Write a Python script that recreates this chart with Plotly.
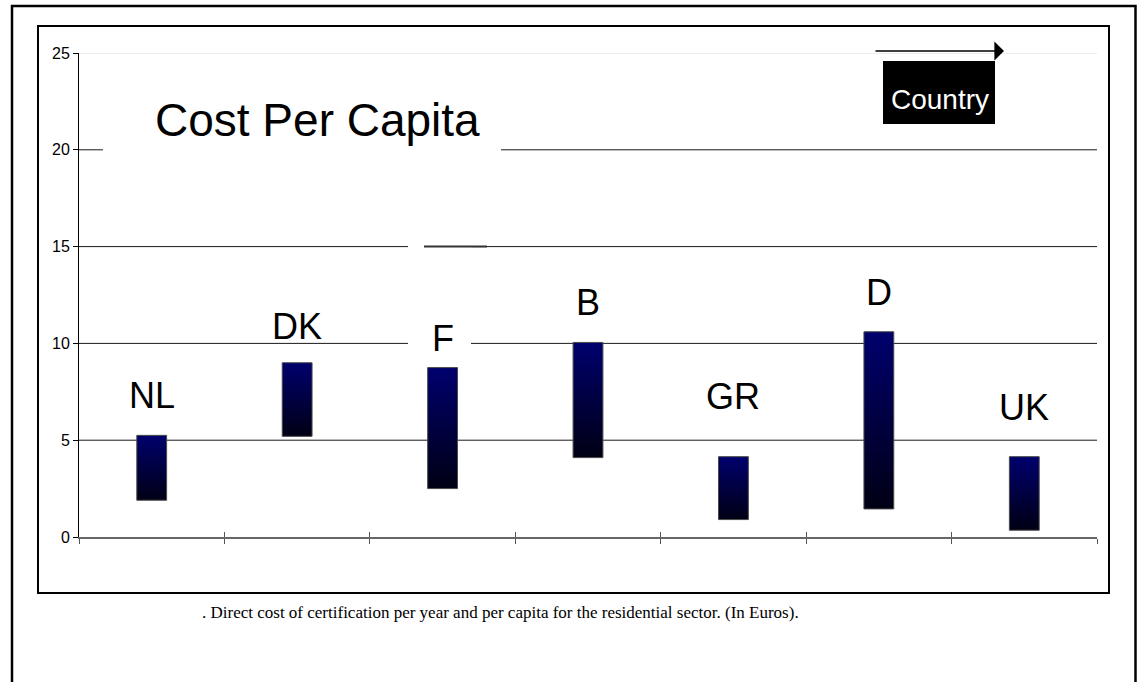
import plotly.graph_objects as go

# ---- data ----
countries = ["NL", "DK", "F", "B", "GR", "D", "UK"]
cost_low = [1.9, 5.2, 2.5, 4.1, 0.9, 1.45, 0.35]
cost_high = [5.25, 9.0, 8.75, 10.05, 4.15, 10.6, 4.15]
label_y = [7.3, 10.85, 10.25, 12.1, 7.25, 12.65, 6.7]
y_ticks = [0, 5, 10, 15, 20, 25]
grid_levels = [5, 10, 15, 20]
title_text = "Cost Per Capita"
axis_label = "Country"
caption = ". Direct cost of certification per year and per capita for the residential sector. (In Euros)."

W, H = 1138, 682
L, R, T, B = 79, 1097, 53, 537


def pxx(x):
    return (x - L) / (R - L)


def pxy(y):
    return (B - y) / (B - T)


SANS = "Liberation Sans, Arial, sans-serif"
BAR_W = 0.205

fig = go.Figure()

for i, (name, lo, hi) in enumerate(zip(countries, cost_low, cost_high)):
    c = i + 0.5
    fig.add_trace(go.Scatter(
        x=[c - BAR_W / 2, c + BAR_W / 2, c + BAR_W / 2, c - BAR_W / 2, c - BAR_W / 2],
        y=[lo, lo, hi, hi, lo],
        mode="lines",
        fill="toself",
        fillgradient=dict(type="vertical",
                          colorscale=[[0, "#000014"], [1, "#00006e"]]),
        line=dict(color="#4a4a4a", width=1),
        name=name,
        showlegend=False,
        hoverinfo="skip",
    ))
    fig.add_annotation(x=c, y=label_y[i], xref="x", yref="y", text=name,
                       showarrow=False,
                       font=dict(family=SANS, size=36, color="black"),
                       xanchor="center", yanchor="middle")

shapes = []
# gridlines
for g in grid_levels:
    shapes.append(dict(type="line", xref="paper", yref="y", x0=0, x1=1, y0=g, y1=g,
                       line=dict(color="#1a1a1a", width=1), layer="below"))
shapes.append(dict(type="line", xref="paper", yref="y", x0=0, x1=1, y0=25, y1=25,
                   line=dict(color="#d9d9d9", width=1), layer="below"))
# white box behind title
shapes.append(dict(type="rect", xref="paper", yref="paper",
                   x0=pxx(103), x1=pxx(501), y0=pxy(165), y1=pxy(92),
                   fillcolor="white", line=dict(width=0), layer="above"))
# white box behind F label
shapes.append(dict(type="rect", xref="paper", yref="paper",
                   x0=pxx(408), x1=pxx(471), y0=pxy(352), y1=pxy(240),
                   fillcolor="white", line=dict(width=0), layer="above"))
# stray segment at 15
shapes.append(dict(type="line", xref="paper", yref="y", x0=pxx(424), x1=pxx(487),
                   y0=15, y1=15, line=dict(color="#333333", width=2), layer="above"))
# black box for Country
shapes.append(dict(type="rect", xref="paper", yref="paper",
                   x0=pxx(883), x1=pxx(995), y0=pxy(124), y1=pxy(61),
                   fillcolor="black", line=dict(width=0), layer="above"))
# inner frame
shapes.append(dict(type="rect", xref="paper", yref="paper",
                   x0=pxx(38), x1=pxx(1109), y0=pxy(593), y1=pxy(26),
                   line=dict(color="black", width=2), fillcolor="rgba(0,0,0,0)", layer="above"))
# outer frame
shapes.append(dict(type="rect", xref="paper", yref="paper",
                   x0=pxx(12), x1=pxx(1135.5), y0=pxy(720), y1=pxy(6),
                   line=dict(color="black", width=2.5), fillcolor="rgba(0,0,0,0)", layer="above"))

fig.update_layout(shapes=shapes)

# title
fig.add_annotation(x=pxx(317), y=pxy(120), xref="paper", yref="paper", text=title_text,
                   showarrow=False, font=dict(family=SANS, size=46, color="black"),
                   xanchor="center", yanchor="middle")
# Country label
fig.add_annotation(x=pxx(940), y=pxy(99), xref="paper", yref="paper", text=axis_label,
                   showarrow=False, font=dict(family=SANS, size=28, color="white"),
                   xanchor="center", yanchor="middle")
# arrow
fig.add_annotation(x=pxx(1004), y=pxy(51), xref="paper", yref="paper", text="",
                   showarrow=True, ax=-130, ay=0, axref="pixel", ayref="pixel",
                   arrowhead=1, arrowsize=2, arrowwidth=1.6, arrowcolor="black",
                   standoff=0)
# caption
fig.add_annotation(x=pxx(500), y=pxy(612), xref="paper", yref="paper", text=caption,
                   showarrow=False,
                   font=dict(family="Liberation Serif, Times New Roman, serif", size=17, color="black"),
                   xanchor="center", yanchor="middle")

fig.update_xaxes(range=[0, 7], tickmode="linear", tick0=0, dtick=1, ticks="outside",
                 ticklen=5, tickcolor="#555555", showticklabels=False, showgrid=False,
                 zeroline=False, showline=True, linecolor="#666666", linewidth=1.5)
fig.update_yaxes(range=[0, 25], tickvals=y_ticks, ticks="outside", ticklen=5,
                 tickcolor="black", showgrid=False, zeroline=False, showline=True,
                 linecolor="black", linewidth=1,
                 tickfont=dict(family=SANS, size=16, color="black"))

# inside ticks on the category axis (ticks cross the axis)
fig.update_layout(xaxis2=dict(overlaying="x", anchor="y", side="bottom", range=[0, 7],
                              tickmode="linear", tick0=0, dtick=1, ticks="inside",
                              ticklen=5, tickcolor="#555555", showticklabels=False,
                              showgrid=False, zeroline=False, showline=False))
fig.add_trace(go.Scatter(x=[None], y=[None], xaxis="x2", showlegend=False, hoverinfo="skip"))

fig.update_layout(width=W, height=H, autosize=False,
                  margin=dict(l=L, r=W - R, t=T, b=H - B, pad=0),
                  plot_bgcolor="white", paper_bgcolor="white", showlegend=False)

fig.write_html("out.html", config={"displayModeBar": False},
               post_script="document.body.style.margin='0';document.body.style.overflow='hidden';")
